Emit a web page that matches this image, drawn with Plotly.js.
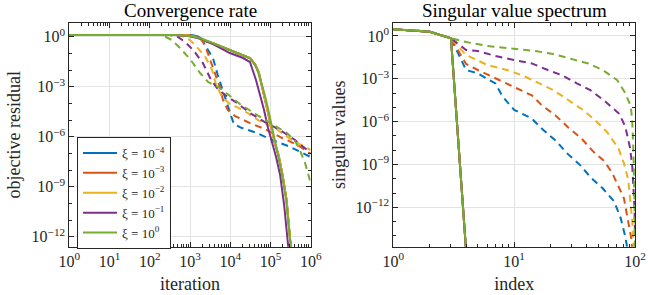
<!DOCTYPE html>
<html><head><meta charset="utf-8">
<script src="https://cdn.plot.ly/plotly-3.0.1.min.js"></script>
<style>html,body{margin:0;padding:0;background:#fff}#chart{width:648px;height:295px}</style>
</head><body><div id="chart"></div>
<script>
// ---- labels & colours ----
const xiLabels = ['ξ = 10<sup>−4</sup>', 'ξ = 10<sup>−3</sup>', 'ξ = 10<sup>−2</sup>', 'ξ = 10<sup>−1</sup>', 'ξ = 10<sup>0</sup>'];
const colors = ['#0072BD', '#D95319', '#EDB120', '#7E2F8E', '#77AC30'];

// ---- Left: convergence rate (log10 of iteration, log10 of residual) ----
// solid lines
const solidIterExp_m4 = [0, 3.0, 3.2, 3.35, 3.6, 4.0, 4.33, 4.5, 4.63, 4.71, 4.8, 4.9, 5.0, 5.1, 5.2, 5.3, 5.4, 5.49, 5.54];
const solidResExp_m4  = [0.1, 0.1, 0.02, -0.2, -0.42, -0.8, -1.1, -1.3, -1.72, -2.14, -3.1, -4.1, -5.2, -6.3, -7.1, -8.3, -9.8, -12.2, -13.5];
const solidIterExp_m3 = [0, 2.95, 3.15, 3.3, 3.6, 4.0, 4.33, 4.5, 4.63, 4.71, 4.8, 4.9, 5.0, 5.1, 5.2, 5.3, 5.4, 5.49, 5.54];
const solidResExp_m3  = [0.1, 0.1, 0.02, -0.2, -0.42, -0.8, -1.1, -1.3, -1.72, -2.14, -3.1, -4.1, -5.2, -6.3, -7.1, -8.3, -9.8, -12.2, -13.5];
const solidIterExp_m2 = [0, 2.9, 3.1, 3.28, 3.6, 4.0, 4.33, 4.5, 4.63, 4.71, 4.8, 4.9, 5.0, 5.1, 5.2, 5.3, 5.4, 5.49, 5.54];
const solidResExp_m2  = [0.1, 0.1, 0.02, -0.18, -0.42, -0.8, -1.1, -1.3, -1.72, -2.14, -3.1, -4.1, -5.2, -6.3, -7.1, -8.3, -9.8, -12.2, -13.5];
const solidIterExp_m1 = [0, 2.63, 2.95, 3.25, 3.62, 3.99, 4.32, 4.49, 4.54, 4.64, 4.74, 4.84, 4.94, 5.04, 5.14, 5.24, 5.34, 5.44, 5.46];
const solidResExp_m1  = [0.1, 0.1, 0.04, -0.11, -0.5, -0.98, -1.28, -1.52, -1.88, -2.6, -3.5, -4.4, -5.48, -6.38, -7.22, -8.3, -10.1, -12.56, -13.3];
const solidIterExp_0  = [0, 2.63, 3.0, 3.25, 3.62, 3.99, 4.32, 4.49, 4.62, 4.69, 4.79, 4.89, 4.99, 5.09, 5.19, 5.29, 5.39, 5.49, 5.54];
const solidResExp_0   = [0.1, 0.1, 0.04, -0.08, -0.44, -0.8, -1.1, -1.28, -1.7, -2.12, -2.9, -3.8, -4.88, -6.02, -7.1, -8.3, -9.8, -12.2, -13.5];
// dashed lines
const dashIterExp_m4 = [0, 3.0, 3.17, 3.3, 3.42, 3.57, 3.69, 3.79, 3.89, 3.99, 4.09, 4.29, 4.67, 5.04, 5.44, 5.73, 6.0];
const dashResExp_m4  = [0.1, 0.1, 0.04, -0.2, -0.68, -1.28, -2.3, -3.08, -3.8, -4.52, -5.24, -5.48, -5.78, -6.2, -6.56, -6.92, -7.22];
const dashIterExp_m3 = [0, 2.88, 3.05, 3.25, 3.37, 3.5, 3.62, 3.75, 3.82, 3.94, 4.12, 4.49, 4.86, 5.29, 5.68, 6.0];
const dashResExp_m3  = [0.1, 0.1, 0.04, -0.08, -0.5, -1.4, -2.3, -3.08, -3.8, -4.4, -4.76, -5.18, -5.54, -6.08, -6.5, -7.04];
const dashIterExp_m2 = [0, 2.7, 2.88, 3.0, 3.17, 3.37, 3.55, 3.65, 3.8, 3.99, 4.32, 4.69, 5.11, 5.53, 6.0];
const dashResExp_m2  = [0.1, 0.1, -0.02, -0.2, -0.62, -1.16, -2.0, -2.9, -3.62, -4.04, -4.4, -5.0, -5.48, -6.2, -6.8];
const dashIterExp_m1 = [0, 2.5, 2.7, 2.88, 3.08, 3.32, 3.5, 3.67, 3.87, 4.17, 4.49, 4.86, 5.24, 5.61, 6.0];
const dashResExp_m1  = [0.1, 0.1, -0.02, -0.32, -0.8, -1.58, -2.48, -3.08, -3.5, -3.98, -4.58, -5.12, -5.6, -6.2, -6.98];
const dashIterExp_0  = [0, 2.25, 2.4, 2.55, 2.75, 3.0, 3.25, 3.45, 3.75, 4.24, 4.67, 5.04, 5.41, 5.61, 5.73, 5.86, 6.0];
const dashResExp_0   = [0.1, 0.1, -0.02, -0.2, -0.68, -1.34, -2.18, -2.72, -3.08, -4.04, -4.7, -5.24, -5.78, -6.26, -6.8, -7.58, -8.78];

// ---- Right: singular value spectrum (index, log10 of singular value) ----
const svSolidIdx = [1, 2, 3, 4];
const svSolidExp = [0.47, 0.3, -0.16, -15.0];
const svIdx_m4 = [1, 2, 3, 4, 5, 7, 8, 10, 14, 17, 22, 28, 35, 43, 54, 67, 76, 83, 86, 88];
const svExp_m4 = [0.47, 0.3, -0.16, -2.38, -2.62, -3.32, -4.23, -5.17, -5.77, -6.5, -7.31, -8.29, -9.02, -9.9, -10.66, -11.57, -12.73, -14.02, -14.76, -16];
const svIdx_m3 = [1, 2, 3, 4, 5, 7, 10, 14, 17, 22, 28, 36, 45, 56, 65, 73, 81, 85, 90, 94, 95];
const svExp_m3 = [0.47, 0.3, -0.16, -1.96, -2.38, -2.97, -3.6, -4.16, -4.86, -5.56, -6.4, -7.17, -8.08, -8.78, -9.62, -10.52, -11.36, -12.34, -13.36, -14.34, -15.5];
const svIdx_m2 = [1, 2, 3, 4, 6, 9, 12, 16, 21, 28, 37, 47, 59, 73, 81, 88, 92, 95, 97, 100];
const svExp_m2 = [0.47, 0.3, -0.16, -1.33, -2.03, -2.41, -2.8, -3.32, -3.78, -4.48, -5.17, -5.91, -6.75, -7.87, -8.92, -10.07, -11.68, -13.0, -14.5, -16];
const svIdx_m1 = [1, 2, 3, 4, 5, 7, 10, 14, 19, 25, 33, 43, 58, 74, 83, 91, 95, 98, 99, 100];
const svExp_m1 = [0.47, 0.3, -0.16, -0.98, -1.05, -1.4, -1.68, -1.92, -2.38, -2.76, -3.32, -3.81, -4.65, -5.45, -6.33, -7.83, -9.16, -10.8, -12.0, -14.0];
const svIdx_0 = [1, 2, 3, 4, 6, 10, 15, 21, 30, 41, 54, 71, 83, 90, 93, 95, 97, 98, 99, 100];
const svExp_0 = [0.47, 0.3, -0.16, -0.42, -0.7, -0.91, -1.05, -1.26, -1.61, -1.92, -2.38, -3.08, -3.99, -4.7, -5.2, -6.1, -8.0, -9.5, -11.5, -15.0];

const toPow = a => a.map(e => Math.pow(10, e));

const solidSets = [[solidIterExp_m4, solidResExp_m4], [solidIterExp_m3, solidResExp_m3], [solidIterExp_m2, solidResExp_m2], [solidIterExp_m1, solidResExp_m1], [solidIterExp_0, solidResExp_0]];
const dashSets = [[dashIterExp_m4, dashResExp_m4], [dashIterExp_m3, dashResExp_m3], [dashIterExp_m2, dashResExp_m2], [dashIterExp_m1, dashResExp_m1], [dashIterExp_0, dashResExp_0]];
const svSets = [[svIdx_m4, svExp_m4], [svIdx_m3, svExp_m3], [svIdx_m2, svExp_m2], [svIdx_m1, svExp_m1], [svIdx_0, svExp_0]];

const DASH = '7px,5px';
const traces = [];
for (let i = 0; i < 5; i++) {
  traces.push({x: toPow(solidSets[i][0]), y: toPow(solidSets[i][1]), xaxis: 'x', yaxis: 'y', mode: 'lines',
    line: {color: colors[i], width: 2}, name: xiLabels[i], showlegend: true, hoverinfo: 'skip'});
  traces.push({x: toPow(dashSets[i][0]), y: toPow(dashSets[i][1]), xaxis: 'x', yaxis: 'y', mode: 'lines',
    line: {color: colors[i], width: 2, dash: DASH}, showlegend: false, hoverinfo: 'skip'});
}
for (let i = 0; i < 5; i++) {
  traces.push({x: svSolidIdx, y: toPow(svSolidExp), xaxis: 'x2', yaxis: 'y2', mode: 'lines',
    line: {color: colors[i], width: 2}, showlegend: false, hoverinfo: 'skip'});
  traces.push({x: svSets[i][0], y: toPow(svSets[i][1]), xaxis: 'x2', yaxis: 'y2', mode: 'lines',
    line: {color: colors[i], width: 2, dash: DASH}, showlegend: false, hoverinfo: 'skip'});
}

const FONT = 'Liberation Serif, DejaVu Serif, serif';
const AX = '#262626';
const GRID = '#e3e3e3';
const sup = n => '10<sup>' + String(n).replace('-', '−') + '</sup>';

function decMinor(lo, hi) { const v = []; for (let d = lo; d < hi; d++) for (let k = 2; k <= 9; k++) v.push(k * Math.pow(10, d)); return v; }
function decOnly(lo, hi, step) { const v = []; for (let d = lo; d <= hi; d++) if (d % step !== 0) v.push(Math.pow(10, d)); return v; }

const leftYMajor = [0, -3, -6, -9, -12];
const rightYMajor = [0, -3, -6, -9, -12];
const leftXMajor = [0, 1, 2, 3, 4, 5, 6];
const rightXMajor = [0, 1, 2];

function axBase(extra) {
  return Object.assign({
    type: 'log', showline: true, linecolor: AX, linewidth: 1, mirror: 'ticks',
    ticks: 'inside', ticklen: 5, tickwidth: 1, tickcolor: AX,
    showgrid: true, gridcolor: GRID, gridwidth: 1, zeroline: false,
    tickfont: {family: FONT, size: 16, color: AX}, tickmode: 'array'
  }, extra);
}
function minorAx(vals) {
  return {ticks: 'inside', ticklen: 3, tickwidth: 1, tickcolor: AX, showgrid: false, tickmode: 'array', tickvals: vals};
}

const layout = {
  width: 648, height: 295, margin: {l: 0, r: 0, t: 0, b: 0},
  paper_bgcolor: '#fff', plot_bgcolor: '#fff', showlegend: true,
  xaxis: axBase({domain: [69.3/648, 310.7/648], anchor: 'y', range: [0, 6],
    tickvals: leftXMajor.map(d => Math.pow(10, d)), ticktext: leftXMajor.map(sup),
    minor: minorAx(decMinor(0, 6)),
    title: {text: 'iteration', font: {family: FONT, size: 18, color: AX}, standoff: 8}}),
  yaxis: axBase({domain: [48.3/295, 272.3/295], anchor: 'x', range: [-12.6, 0.84],
    tickvals: leftYMajor.map(d => Math.pow(10, d)), ticktext: leftYMajor.map(sup),
    minor: minorAx(decOnly(-12, 0, 3)),
    title: {text: 'objective residual', font: {family: FONT, size: 18, color: AX}, standoff: 6}}),
  xaxis2: axBase({domain: [393.3/648, 635/648], anchor: 'y2', range: [0, 2],
    tickvals: rightXMajor.map(d => Math.pow(10, d)), ticktext: rightXMajor.map(sup),
    minor: minorAx(decMinor(0, 2)),
    title: {text: 'index', font: {family: FONT, size: 18, color: AX}, standoff: 8}}),
  yaxis2: axBase({domain: [48.3/295, 272.3/295], anchor: 'x2', range: [-14.75, 0.93],
    tickvals: rightYMajor.map(d => Math.pow(10, d)), ticktext: rightYMajor.map(sup),
    minor: minorAx(decOnly(-14, 0, 3)),
    title: {text: 'singular values', font: {family: FONT, size: 18, color: AX}, standoff: 5}}),
  legend: {x: 77/648, y: (295-137)/295, xanchor: 'left', yanchor: 'top', bgcolor: '#fff',
    bordercolor: AX, borderwidth: 1, font: {family: FONT, size: 13, color: AX}, tracegroupgap: 0, itemwidth: 34},
  annotations: [
    {text: 'Convergence rate', xref: 'paper', yref: 'paper', x: 190/648, y: (295-11)/295, xanchor: 'center', yanchor: 'middle', showarrow: false, font: {family: FONT, size: 19, color: '#000'}},
    {text: 'Singular value spectrum', xref: 'paper', yref: 'paper', x: 514/648, y: (295-11)/295, xanchor: 'center', yanchor: 'middle', showarrow: false, font: {family: FONT, size: 19, color: '#000'}}
  ]
};

Plotly.newPlot('chart', traces, layout, {staticPlot: true, displayModeBar: false});
</script>
</body></html>
